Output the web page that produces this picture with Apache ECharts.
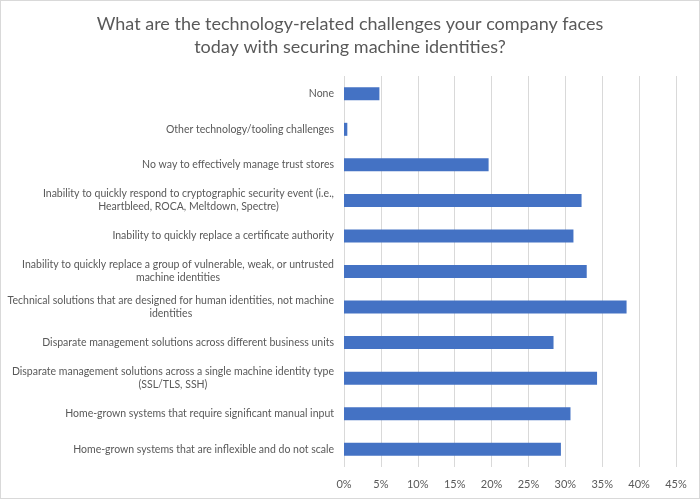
<!DOCTYPE html>
<html>
<head>
<meta charset="utf-8">
<script src="https://cdn.jsdelivr.net/npm/echarts@6/dist/echarts.min.js"></script>
<style>
html,body{margin:0;padding:0;background:#fff;}
#c{position:absolute;left:0;top:0;width:698px;height:497px;border:1px solid #d9d9d9;}
</style>
</head>
<body>
<div id="c"></div>
<script>
const titleText = "What are the technology-related challenges your company faces\ntoday with securing machine identities?";
const categories = [
  "None",
  "Other technology/tooling challenges",
  "No way to effectively manage trust stores",
  "Inability to quickly respond to cryptographic security event (i.e.,\nHeartbleed, ROCA, Meltdown, Spectre)",
  "Inability to quickly replace a certificate authority",
  "Inability to quickly replace a group of vulnerable, weak, or untrusted\nmachine identities",
  "Technical solutions that are designed for human identities, not machine\nidentities",
  "Disparate management solutions across different business units",
  "Disparate management solutions across a single machine identity type\n(SSL/TLS, SSH)",
  "Home-grown systems that require significant manual input",
  "Home-grown systems that are inflexible and do not scale"
];
const values = [4.8, 0.45, 19.6, 32.2, 31.1, 32.9, 38.3, 28.4, 34.3, 30.7, 29.4];
const tickMax = 45;
const tickStep = 5;

const chart = echarts.init(document.getElementById('c'), null, {renderer: 'canvas'});
const font = 'Lato, "Open Sans", sans-serif';
chart.setOption({
  animation: false,
  title: {
    text: titleText,
    left: 'center',
    top: 7,
    textStyle: {fontFamily: font, fontSize: 18, fontWeight: 'normal', color: '#595959', lineHeight: 23}
  },
  grid: {left: 343, right: 23, top: 75, bottom: 31, containLabel: false},
  xAxis: {
    type: 'value',
    min: 0,
    max: tickMax,
    interval: tickStep,
    axisLine: {show: false},
    axisTick: {show: false},
    splitLine: {lineStyle: {color: '#d9d9d9', width: 1}},
    axisLabel: {
      formatter: v => v + '%',
      color: '#595959',
      fontFamily: font,
      fontSize: 11,
      margin: 12
    }
  },
  yAxis: {
    type: 'category',
    inverse: true,
    data: categories,
    axisLine: {show: false},
    axisTick: {show: false},
    axisLabel: {
      color: '#595959',
      fontFamily: font,
      fontSize: 10.5,
      lineHeight: 13,
      margin: 10,
      formatter: v => v.split('\n').map(s => '{c|' + s + '}').join('\n'),
      rich: {c: {align: 'center', color: '#595959', fontFamily: font, fontSize: 10.5, lineHeight: 13}}
    }
  },
  series: [{
    type: 'bar',
    data: values,
    barWidth: 13,
    itemStyle: {color: '#4472c4'}
  }]
});
</script>
</body>
</html>
